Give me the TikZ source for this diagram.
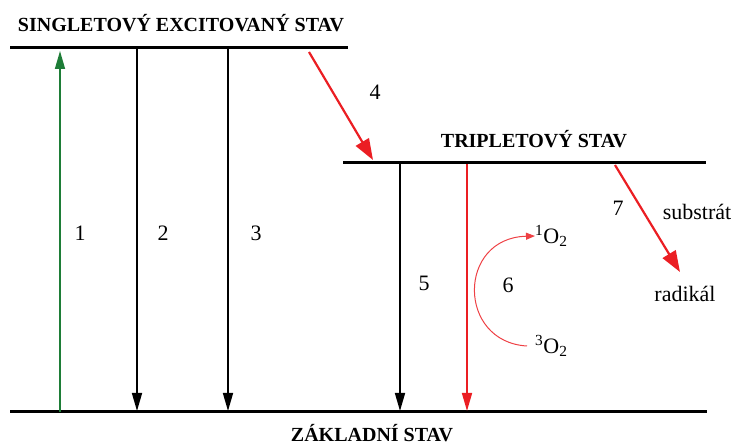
\documentclass[tikz,border=0pt]{standalone}
\usepackage{fontspec}
\setmainfont{Liberation Serif}
\usetikzlibrary{arrows.meta}
\definecolor{myred}{RGB}{235,30,35}
\definecolor{mygreen}{RGB}{30,125,55}
\begin{document}
\begin{tikzpicture}[x=1pt,y=-1pt,
  level/.style={line width=3pt,black},
  title/.style={font=\bfseries\fontsize{20}{23}\selectfont,inner sep=1pt},
  lbl/.style={font=\fontsize{22}{25}\selectfont},
  blackarr/.style={line width=1.6pt,black,-{Triangle[length=18pt,width=10pt]}},
  redarr/.style={line width=1.6pt,myred,-{Triangle[length=18pt,width=10pt]}},
  bigred/.style={line width=2.2pt,myred,-{Triangle[length=21pt,width=15pt]}},
  greenarr/.style={line width=1.6pt,mygreen,-{Triangle[length=18pt,width=10pt]}},
  curvearr/.style={line width=1pt,myred!85,-{Triangle[length=9pt,width=7pt]}}]
\useasboundingbox (0,0) rectangle (740,446);
% levels
\coordinate (s1) at (10,48); \coordinate (s2) at (348,48);
\coordinate (t1) at (343,163); \coordinate (t2) at (706,163);
\coordinate (g1) at (10,412); \coordinate (g2) at (707,412);
\draw[level] (s1) -- (s2);
\draw[level] (t1) -- (t2);
\draw[level] (g1) -- (g2);
\node[title] (ts) at (181,23) {SINGLETOVÝ EXCITOVANÝ STAV};
\node[title] (tt) at (534,139) {TRIPLETOVÝ STAV};
\node[title] (tg) at (372,433) {ZÁKLADNÍ STAV};
% arrows
\coordinate (a1s) at (60,412); \coordinate (a1e) at (60,51);
\draw[greenarr] (a1s) -- (a1e);
\coordinate (a2s) at (137,49); \coordinate (a2e) at (137,411);
\draw[blackarr] (a2s) -- (a2e);
\coordinate (a3s) at (228,49); \coordinate (a3e) at (228,411);
\draw[blackarr] (a3s) -- (a3e);
\coordinate (a4s) at (309,52); \coordinate (a4e) at (373,160);
\draw[bigred] (a4s) -- (a4e);
\coordinate (a5s) at (400,164); \coordinate (a5e) at (400,411);
\draw[blackarr] (a5s) -- (a5e);
\coordinate (a6s) at (467,164); \coordinate (a6e) at (467,411);
\draw[redarr] (a6s) -- (a6e);
\coordinate (a7s) at (615,165); \coordinate (a7e) at (680,272);
\draw[bigred] (a7s) -- (a7e);
% labels
\node[lbl] (n1) at (80,233) {1};
\node[lbl] (n2) at (163,233) {2};
\node[lbl] (n3) at (256,233) {3};
\node[lbl] (n4) at (375,92) {4};
\node[lbl] (n5) at (424,283) {5};
\node[lbl] (n6) at (508,285) {6};
\node[lbl] (n7) at (618,208) {7};
\node[lbl] (sub) at (697,212) {substrát};
\node[lbl] (rad) at (685,294) {radikál};
\node[lbl,anchor=west,inner sep=0pt] (o1) at (535,236) {\textsuperscript{1}O\textsubscript{2}};
\node[lbl,anchor=west,inner sep=0pt] (o3) at (535,346) {\textsuperscript{3}O\textsubscript{2}};
\draw[curvearr] ([xshift=-8pt]o3.west) .. controls (457,342) and (457,238) .. (o1.west);
\end{tikzpicture}
\end{document}
